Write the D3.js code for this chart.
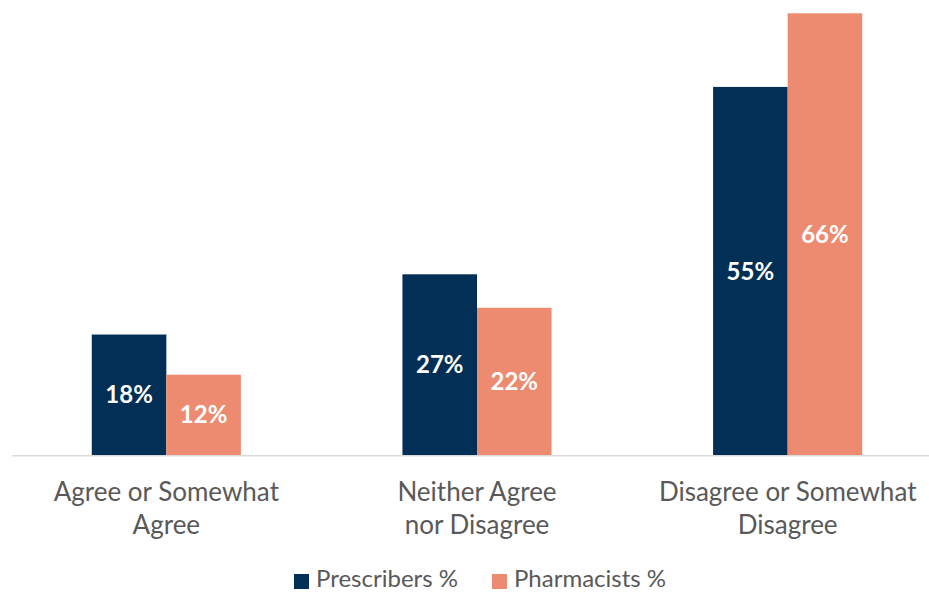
<!DOCTYPE html>
<html>
<head>
<meta charset="utf-8">
<script src="https://cdn.jsdelivr.net/npm/d3@7"></script>
<style>
  html, body { margin: 0; padding: 0; background: #fff; }
  svg { display: block; font-family: Lato, "Open Sans", sans-serif; }
</style>
</head>
<body>
<svg id="chart" width="929" height="592"></svg>
<script>
// Survey responses by group (percent of respondents)
const categories = [
  ["Agree or Somewhat", "Agree"],
  ["Neither Agree", "nor Disagree"],
  ["Disagree or Somewhat", "Disagree"]
];
const seriesNames = ["Prescribers %", "Pharmacists %"];
const prescribers = [18, 27, 55];
const pharmacists = [12, 22, 66];
const seriesColors = ["#022f56", "#ed8b71"];

const svg = d3.select("#chart");
const baseline = 455;

const catKeys = categories.map(c => c.join(" "));
const x = d3.scaleBand()
  .domain(catKeys)
  .range([11, 943])
  .paddingInner(0.52)
  .paddingOuter(0.26);

const xs = d3.scaleBand()
  .domain(seriesNames)
  .range([0, x.bandwidth()]);

const y = d3.scaleLinear()
  .domain([0, 66])
  .range([baseline, 13.3]);

const rows = catKeys.map((k, i) => ({
  key: k,
  lines: categories[i],
  values: [prescribers[i], pharmacists[i]]
}));

// Bars
const groups = svg.append("g")
  .selectAll("g")
  .data(rows)
  .join("g")
  .attr("transform", d => `translate(${x(d.key)},0)`);

groups.selectAll("rect")
  .data(d => d.values.map((v, j) => ({ name: seriesNames[j], v, j })))
  .join("rect")
  .attr("x", d => xs(d.name))
  .attr("width", xs.bandwidth())
  .attr("y", d => y(d.v))
  .attr("height", d => y(0) - y(d.v))
  .attr("fill", d => seriesColors[d.j]);

// Value labels, centred in each bar
groups.selectAll("text.val")
  .data(d => d.values.map((v, j) => ({ name: seriesNames[j], v, j })))
  .join("text")
  .attr("class", "val")
  .attr("x", d => xs(d.name) + xs.bandwidth() / 2)
  .attr("y", d => (y(d.v) + y(0)) / 2)
  .attr("dy", "0.36em")
  .attr("text-anchor", "middle")
  .attr("font-size", 24)
  .attr("font-weight", 700)
  .attr("fill", "#ffffff")
  .text(d => d.v + "%");

// Category axis line
svg.append("line")
  .attr("x1", 12).attr("x2", 929)
  .attr("y1", baseline + 0.75).attr("y2", baseline + 0.75)
  .attr("stroke", "#d9d9d9")
  .attr("stroke-width", 1.5);

// Category labels (two lines each)
const catLabels = svg.append("g")
  .selectAll("text")
  .data(rows)
  .join("text")
  .attr("text-anchor", "middle")
  .attr("font-size", 26)
  .attr("fill", "#595959")
  .attr("transform", d => `translate(${x(d.key) + x.bandwidth() / 2},0)`);

catLabels.selectAll("tspan")
  .data(d => d.lines)
  .join("tspan")
  .attr("x", 0)
  .attr("y", (d, i) => 501 + i * 33)
  .text(d => d);

// Legend
const legendItems = [
  { name: seriesNames[0], color: seriesColors[0], x: 294 },
  { name: seriesNames[1], color: seriesColors[1], x: 492 }
];
const legend = svg.append("g")
  .selectAll("g")
  .data(legendItems)
  .join("g")
  .attr("transform", d => `translate(${d.x},0)`);

legend.append("rect")
  .attr("x", 0).attr("y", 574)
  .attr("width", 15).attr("height", 15)
  .attr("fill", d => d.color);

legend.append("text")
  .attr("x", 22).attr("y", 587)
  .attr("font-size", 24)
  .attr("fill", "#595959")
  .text(d => d.name);
</script>
</body>
</html>
